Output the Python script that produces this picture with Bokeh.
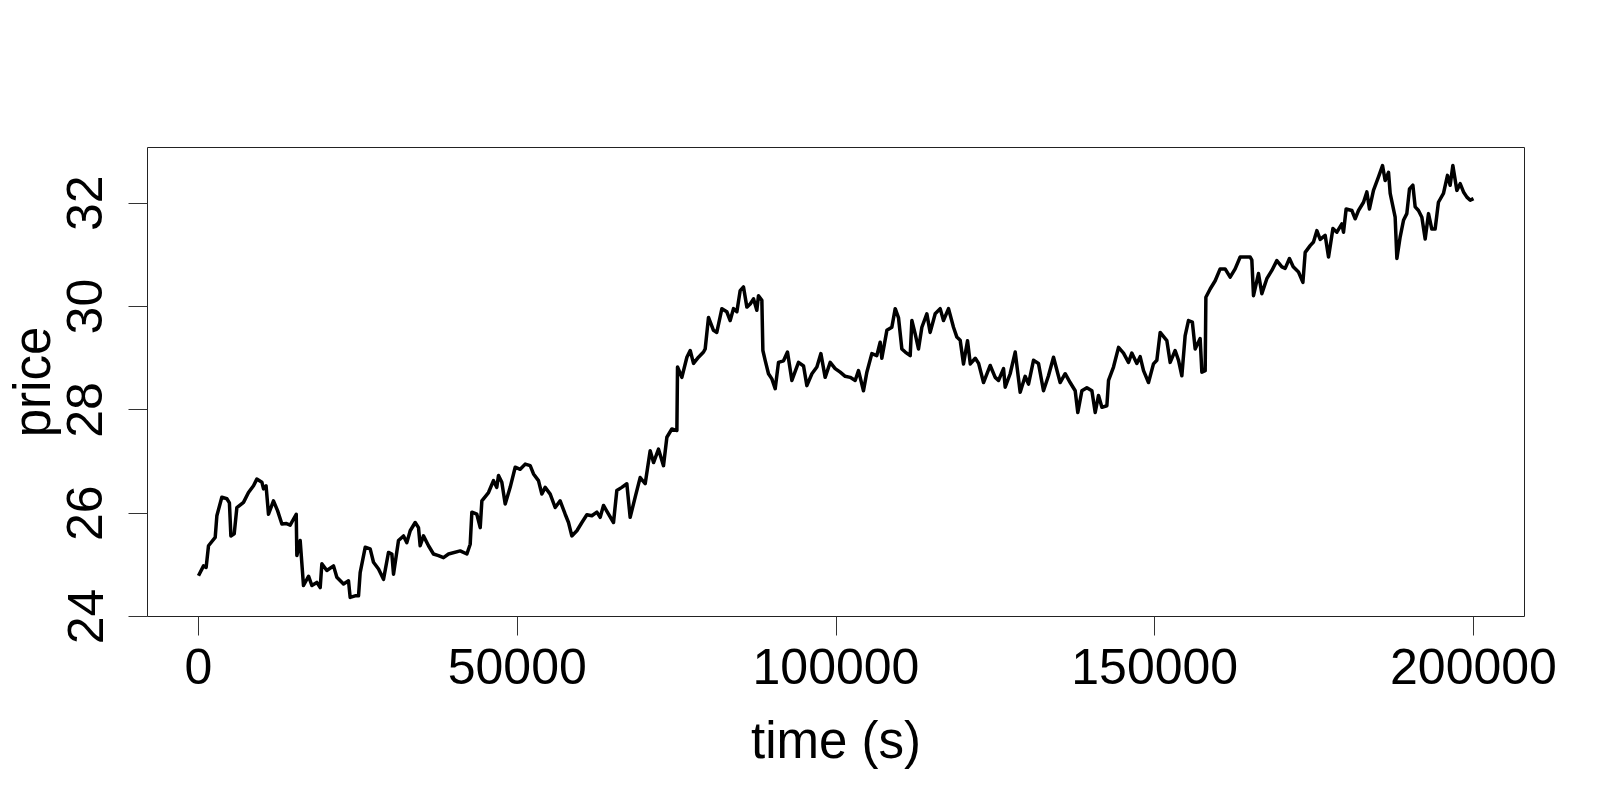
import math
from bokeh.plotting import figure
from bokeh.models import Range1d, FixedTicker
from bokeh.embed import file_html
from bokeh.resources import INLINE

# ---- data ----
time_s = [
    0, 790, 1200, 1570, 2620, 2880, 3660, 4450, 4850, 5080, 5600, 6020, 7060, 7840, 8630, 9150,
    9940, 10200, 10600, 10980, 11760, 12400, 13080, 13800, 14380, 15330, 15430, 15950, 16470,
    17260, 17780, 18560, 19090, 19350, 20130, 21180, 21700, 22750, 23530, 23790, 24570, 25100,
    25360, 26150, 26930, 27450, 28240, 29020, 29800, 30330, 30590, 31370, 32160, 32680, 33210,
    33990, 34510, 34770, 35290, 36080, 36860, 37650, 38430, 39220,
    41050, 42100, 42620, 42880, 43660, 44190, 44450, 45490, 46270, 46790, 47060, 47580, 48110,
    48890, 49680, 50460, 51250, 52030, 52550, 53330, 53860, 54380, 55170, 55950, 56730, 57520,
    58040, 58560, 59350, 60140, 60920, 61700, 62490, 63010, 63530, 64320, 65100, 65620, 66400,
    67190, 67710, 68500, 69280, 70070, 70850, 71380, 72160, 72940, 73470, 74250, 75040, 75140,
    75820, 76610, 77130, 77650, 78430, 79220,
    79480, 80000, 80780, 81300, 82100, 82870, 83400, 83920, 84450, 84970, 85490, 86020, 86540,
    87060, 87580, 87840, 88370, 88530, 88890, 89410, 89940, 90460, 90980, 91770, 92390, 93080,
    94120, 94910, 95430, 96220, 97000, 97630, 98300, 99090, 99870, 100660, 101440, 102220,
    103010, 103530, 104310, 104840, 105620, 106400, 106930, 107190, 107980, 108760, 109290,
    109810, 110330, 110860, 111640, 111900, 112420, 112940, 113470, 114250, 114770, 115560,
    116340, 116860, 117650, 118430,
    118960, 119480, 120000, 120630, 121070, 121850, 122370, 123140, 124190, 124970, 125490,
    126280, 126540, 127320, 128110, 128890, 129670, 130200, 130980, 131760, 132550, 133330,
    134120, 135160, 135950, 136730, 137520, 137930, 138570, 139350, 140140, 140660, 141180,
    141710, 142490, 142750, 143530, 144320, 145100, 145880, 146400, 147190, 147710, 148240,
    149020, 149800, 150330, 150850, 151900, 152420, 153200, 153730, 154250, 154770, 155290,
    155900, 156340, 157120, 157390, 157910, 158020, 158690, 159480,
    160260, 161040, 161830, 162610, 163400, 164180, 164970, 165230, 165490, 166270, 166800,
    167580, 168370, 169150, 169940, 170460, 171130, 171720, 172550, 173240, 173600, 174380,
    174900, 175430, 175950, 176730, 177260, 177950, 178570, 179350, 179610, 180020, 180920,
    181440, 181960, 182750, 183270, 183680, 184310, 185100, 185730, 186140, 186670, 186930,
    187710, 187980, 188500, 189020, 189540, 189960, 190490, 190850, 191370, 191900, 192420,
    192940, 193460, 193980, 194500, 195290, 195920, 196340, 196760, 197390, 197910, 198430,
    198960, 199490, 200000,
]
price = [
    24.79, 24.98, 24.95, 25.37, 25.53, 25.95, 26.31, 26.28, 26.20, 25.56, 25.60, 26.11, 26.21,
    26.40, 26.53, 26.66, 26.60, 26.47, 26.53, 25.98, 26.24, 26.05, 25.79, 25.80, 25.77, 25.98,
    25.18, 25.47, 24.60, 24.78, 24.60, 24.66, 24.56, 25.02, 24.89, 24.98, 24.76, 24.63, 24.69,
    24.37, 24.40, 24.40, 24.85, 25.34, 25.31, 25.05, 24.92, 24.72, 25.24, 25.21, 24.82, 25.47,
    25.56, 25.43, 25.66, 25.82, 25.72, 25.37, 25.56, 25.37, 25.21, 25.18, 25.14, 25.21,
    25.27, 25.21, 25.40, 26.02, 25.98, 25.72, 26.24, 26.40, 26.63, 26.50, 26.73, 26.60, 26.18,
    26.50, 26.89, 26.85, 26.95, 26.92, 26.76, 26.63, 26.37, 26.50, 26.37, 26.11, 26.24, 25.98,
    25.82, 25.56, 25.66, 25.82, 25.97, 25.95, 26.02, 25.92, 26.15, 25.98, 25.82, 26.44, 26.50,
    26.57, 25.92, 26.31, 26.69, 26.57, 27.21, 26.98, 27.24, 26.92, 27.47, 27.63, 27.60, 28.83,
    28.63, 29.02, 29.15, 28.90, 29.02, 29.12,
    29.18, 29.79, 29.54, 29.50, 29.96, 29.90, 29.73, 29.96, 29.90, 30.31, 30.38, 29.99, 30.05,
    30.15, 29.93, 30.21, 30.12, 29.15, 28.96, 28.70, 28.60, 28.41, 28.92, 28.95, 29.12, 28.57,
    28.92, 28.85, 28.47, 28.70, 28.83, 29.09, 28.63, 28.92, 28.80, 28.73, 28.65, 28.63,
    28.57, 28.76, 28.37, 28.73, 29.09, 29.05, 29.31, 29.00, 29.54, 29.60, 29.96,
    29.78, 29.18, 29.12, 29.05, 29.73, 29.47, 29.18, 29.60, 29.86, 29.50, 29.86,
    29.96, 29.73, 29.96, 29.60,
    29.41, 29.35, 28.89, 29.34, 28.89, 29.00, 28.90, 28.53, 28.86, 28.63, 28.57,
    28.80, 28.44, 28.70, 29.12, 28.34, 28.65, 28.50, 28.96, 28.90, 28.37, 28.66,
    29.02, 28.53, 28.70, 28.53, 28.37, 27.95, 28.37, 28.43, 28.37, 27.95, 28.28,
    28.05, 28.08, 28.57, 28.83, 29.21, 29.10, 28.92, 29.10, 28.90, 29.03, 28.76,
    28.53, 28.89, 28.96, 29.50, 29.34, 28.92, 29.15, 28.96, 28.66, 29.44, 29.73,
    29.70, 29.18, 29.38, 28.73, 28.76, 30.18, 30.34, 30.50,
    30.73, 30.73, 30.57, 30.73, 30.96, 30.96, 30.96, 30.90, 30.21, 30.64, 30.25,
    30.54, 30.70, 30.89, 30.77, 30.74, 30.93, 30.77, 30.67, 30.47, 31.05, 31.18,
    31.25, 31.47, 31.30, 31.38, 30.96, 31.51, 31.44, 31.60, 31.44, 31.89, 31.86,
    31.70, 31.86, 32.02, 32.22, 31.89, 32.25, 32.51, 32.73, 32.44, 32.60, 32.19,
    31.73, 30.93, 31.35, 31.67, 31.80, 32.28, 32.35, 31.93, 31.86, 31.73, 31.31,
    31.80, 31.50, 31.50, 32.02, 32.19, 32.54, 32.35, 32.73, 32.25, 32.38, 32.22,
    32.12, 32.06, 32.09,
]
x_ticks = [0, 50000, 100000, 150000, 200000]
x_tick_labels = ["0", "50000", "100000", "150000", "200000"]
y_ticks = [24, 26, 28, 30, 32]
y_tick_labels = ["24", "26", "28", "30", "32"]
x_title = "time (s)"
y_title = "price"

FONT = "Liberation Sans"

x0, x1 = -8000, 208000
y0, y1 = 24.0, 33.08

p = figure(width=1584, height=784, output_backend="svg", toolbar_location=None,
           x_range=Range1d(x0, x1), y_range=Range1d(y0, y1),
           min_border_left=147, min_border_right=60, min_border_top=147, min_border_bottom=168,
           background_fill_color="white", border_fill_color="white")

p.line(time_s, price, line_color="black", line_width=3.5, line_join="round")

p.xgrid.visible = False
p.ygrid.visible = False
p.outline_line_color = "#222222"
p.outline_line_width = 1

for ax, ticks, labels in ((p.xaxis[0], x_ticks, x_tick_labels), (p.yaxis[0], y_ticks, y_tick_labels)):
    ax.ticker = FixedTicker(ticks=ticks)
    ax.major_label_overrides = {t: l for t, l in zip(ticks, labels)}
    ax.axis_line_color = None
    ax.major_tick_out = 19
    ax.major_tick_in = 0
    ax.major_tick_line_color = "#333333"
    ax.major_tick_line_width = 1
    ax.minor_tick_line_color = None
    ax.major_label_text_font = FONT
    ax.major_label_text_font_size = "50px"
    ax.major_label_text_color = "black"
    ax.axis_label_text_font = FONT
    ax.axis_label_text_font_size = "51px"
    ax.axis_label_text_font_style = "normal"
    ax.axis_label_text_color = "black"

p.xaxis.major_label_standoff = 13
p.yaxis.major_label_standoff = 26
p.yaxis.major_label_orientation = "vertical"

p.xaxis.axis_label = x_title
p.xaxis.axis_label_standoff = 25
p.yaxis.axis_label = y_title
p.yaxis.axis_label_standoff = 4
p.yaxis.axis_label_text_line_height = 0.6

open("out.html", "w").write(file_html(p, INLINE))
